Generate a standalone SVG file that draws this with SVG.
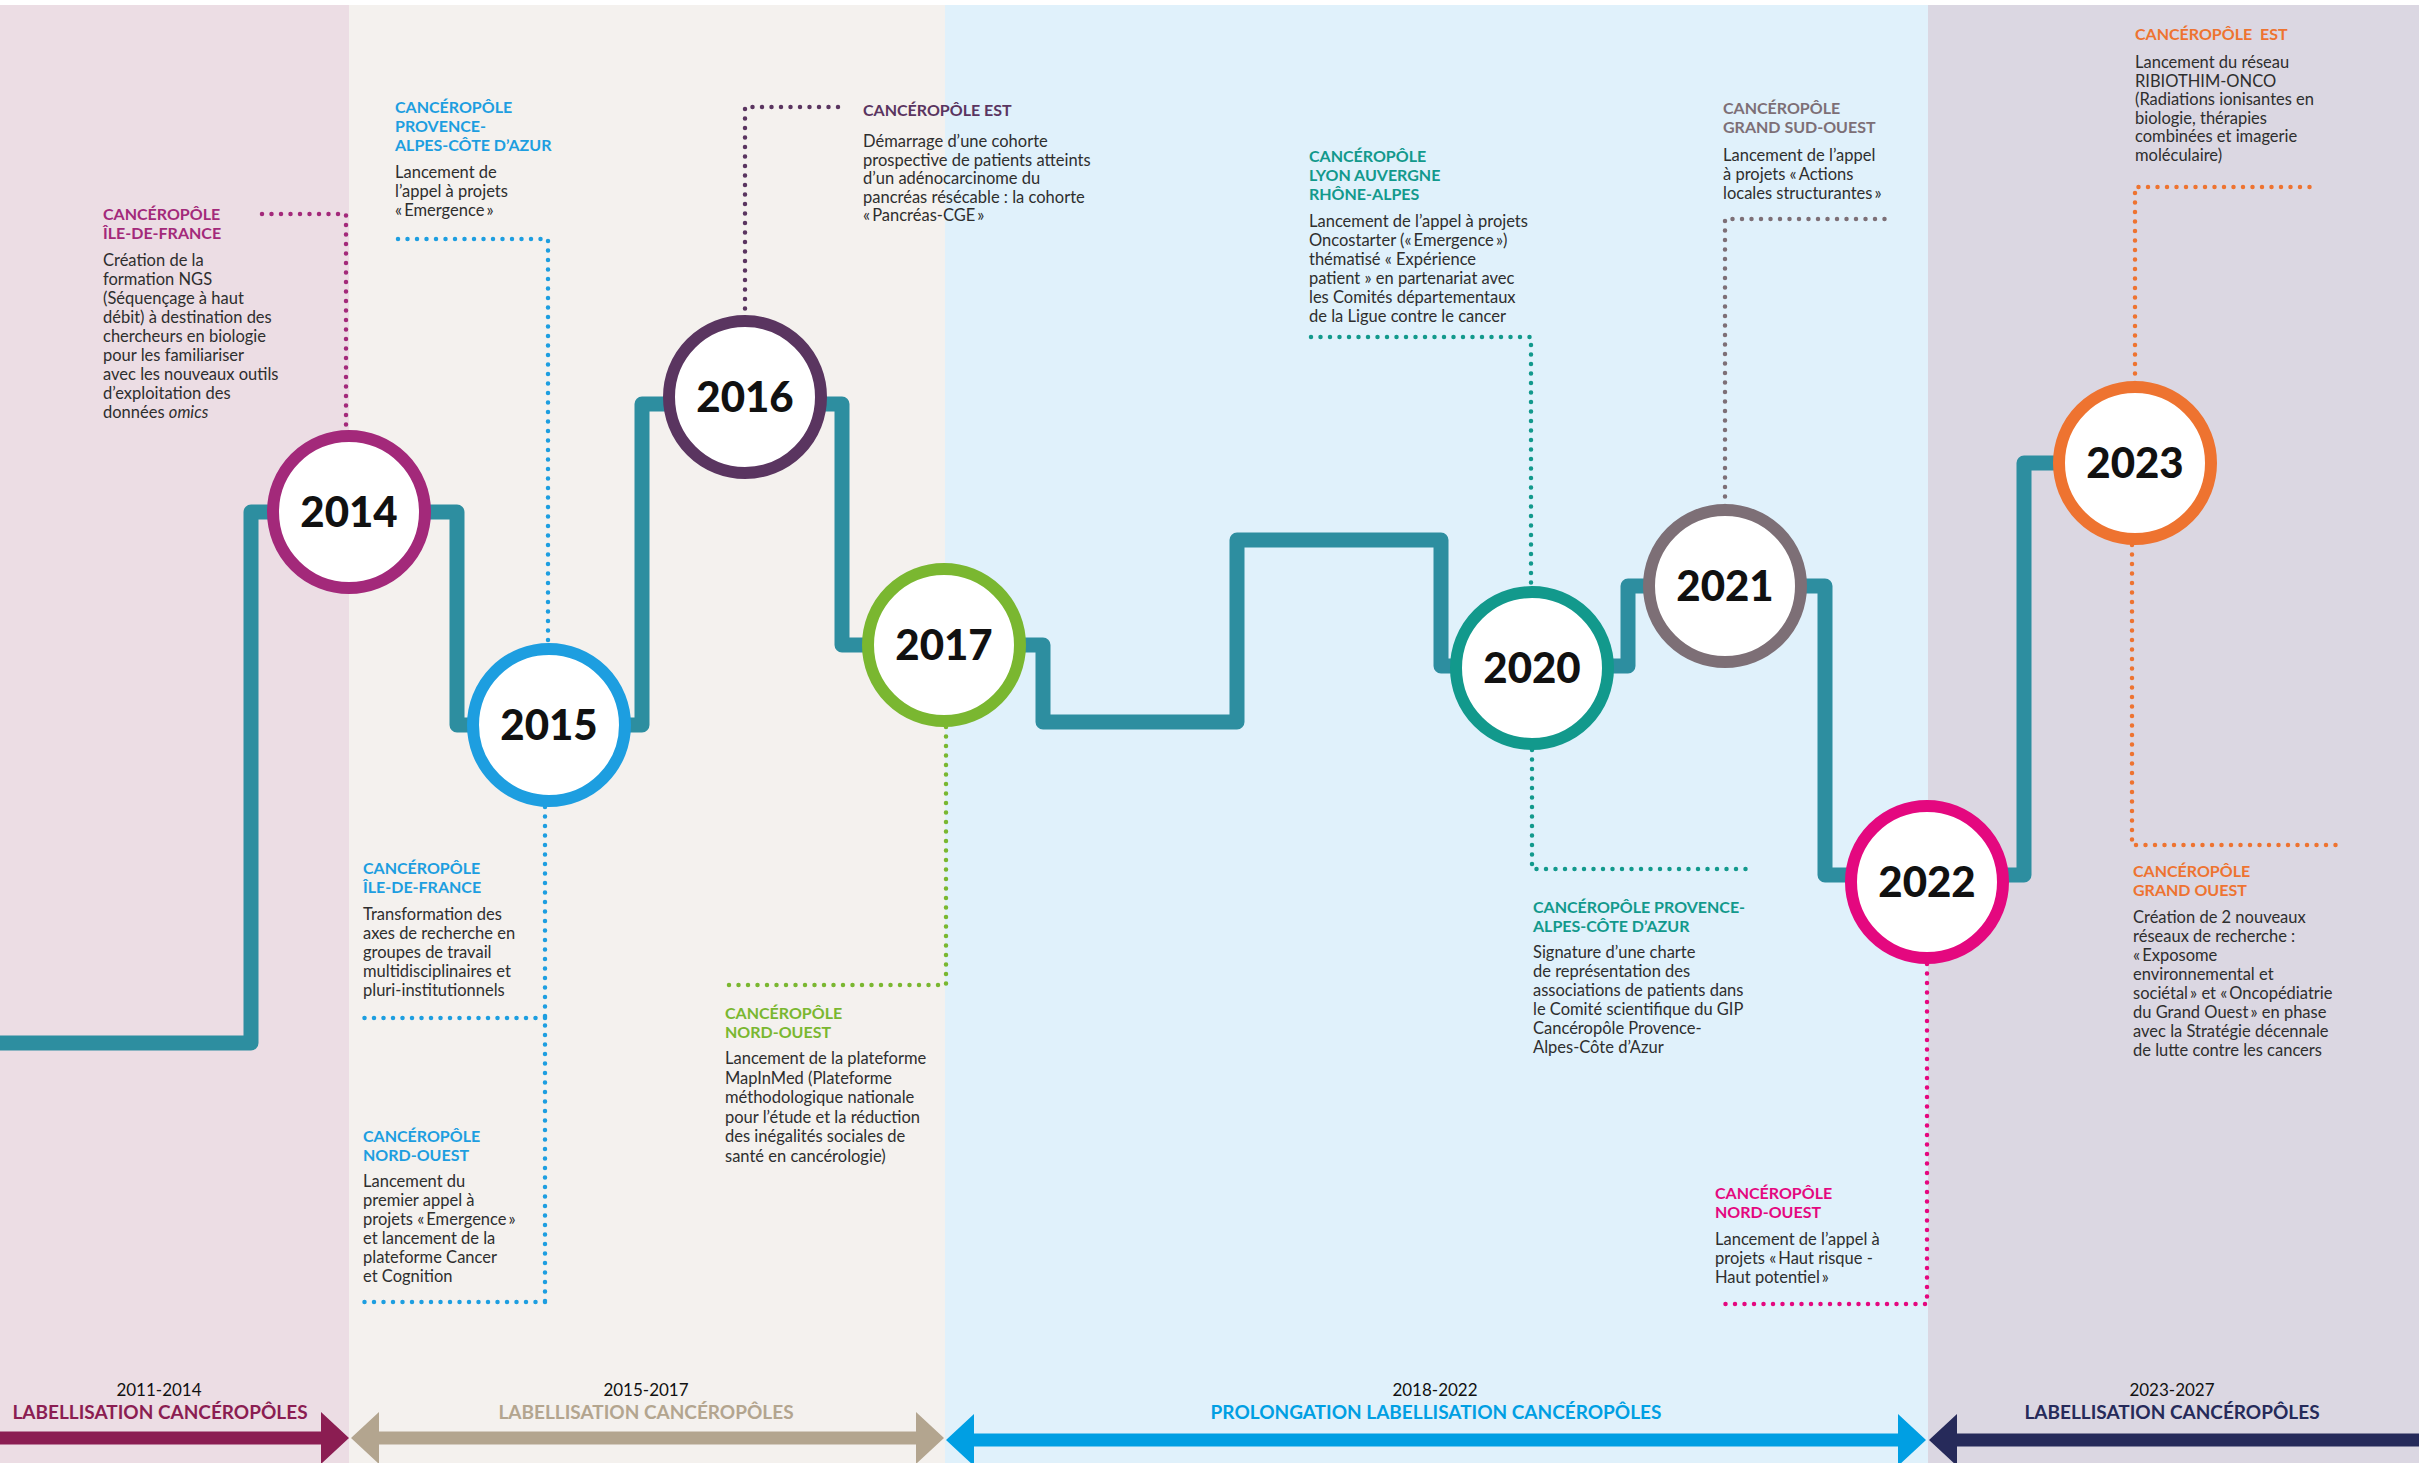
<svg xmlns="http://www.w3.org/2000/svg" width="2419" height="1463" viewBox="0 0 2419 1463">
<style>
.h{font-family:Lato,"Noto Sans",sans-serif;font-weight:700;font-size:16px}
.b{font-family:Lato,"Noto Sans",sans-serif;font-size:16.5px;fill:#2e2e2e}
.yr{font-family:Lato,"Noto Sans",sans-serif;font-weight:900;font-size:42px;fill:#111;text-anchor:middle}
.dot{fill:none;stroke-width:4.5;stroke-linecap:round;stroke-dasharray:0 9.5}
.ring{fill:#fff;stroke-width:12}
.per{font-family:Lato,"Noto Sans",sans-serif;font-size:17px;text-anchor:middle;fill:#111}
.lab{font-family:Lato,"Noto Sans",sans-serif;font-weight:700;font-size:19px;text-anchor:middle}
</style>
<g id="background">
<rect x="0" y="0" width="2419" height="1463" fill="#fff"/>
<rect x="0" y="5" width="349" height="1458" fill="#ecdde4"/>
<rect x="349" y="5" width="596" height="1458" fill="#f4f1ee"/>
<rect x="945" y="5" width="983" height="1458" fill="#e0f1fb"/>
<rect x="1928" y="5" width="491" height="1458" fill="#dbd7e2"/>
</g>
<g id="connectors">
<path id="timeline" d="M0,1043 H251 V512 H457 V725 H642 V404 H842 V645 H1043 V722 H1237 V540 H1441 V666 H1628 V586 H1825 V875 H2024 V463 H2135" fill="none" stroke="#2d8ea0" stroke-width="15" stroke-linejoin="round"/>
<path class="dot" stroke="#a3297a" d="M262,214 H346 V432"/>
<path class="dot" stroke="#1d9ee0" d="M398,239 H548 V645"/>
<path class="dot" stroke="#1d9ee0" d="M545,807 V1302 M545,1018 H364 M545,1302 H364"/>
<path class="dot" stroke="#5a3560" d="M745,318 V107 H844"/>
<path class="dot" stroke="#7ab730" d="M946,727 V985 H725"/>
<path class="dot" stroke="#12998c" d="M1311,337 H1531 V588"/>
<path class="dot" stroke="#12998c" d="M1532,750 V869 H1746"/>
<path class="dot" stroke="#7d6f76" d="M1725,506 V219 H1887"/>
<path class="dot" stroke="#e4087f" d="M1927,964 V1304 H1716"/>
<path class="dot" stroke="#ee7330" d="M2135,383 V187 H2314"/>
<path class="dot" stroke="#ee7330" d="M2132,545 V845 H2342"/>
</g>
<g id="n2014">
<circle class="ring" cx="349" cy="512" r="76" stroke="#a3297a"/>
<text class="yr" x="349" y="527">2014</text>
<text class="h" fill="#a3297a"><tspan x="103" y="220">CANCÉROPÔLE</tspan><tspan x="103" y="239">ÎLE-DE-FRANCE</tspan></text>
<text class="b"><tspan x="103" y="266">Création de la</tspan><tspan x="103" y="285">formation NGS</tspan><tspan x="103" y="304">(Séquençage à haut</tspan><tspan x="103" y="323">débit) à destination des</tspan><tspan x="103" y="342">chercheurs en biologie</tspan><tspan x="103" y="361">pour les familiariser</tspan><tspan x="103" y="380">avec les nouveaux outils</tspan><tspan x="103" y="399">d’exploitation des</tspan><tspan x="103" y="418">données <tspan font-style="italic">omics</tspan></tspan></text>
</g>
<g id="n2015">
<circle class="ring" cx="549" cy="725" r="76" stroke="#1d9ee0"/>
<text class="yr" x="549" y="740">2015</text>
<text class="h" fill="#1d9ee0"><tspan x="395" y="113">CANCÉROPÔLE</tspan><tspan x="395" y="132">PROVENCE-</tspan><tspan x="395" y="151">ALPES-CÔTE D’AZUR</tspan></text>
<text class="b"><tspan x="395" y="178">Lancement de</tspan><tspan x="395" y="197">l’appel à projets</tspan><tspan x="395" y="216">«&#8201;Emergence&#8201;»</tspan></text>
<text class="h" fill="#1d9ee0"><tspan x="363" y="874">CANCÉROPÔLE</tspan><tspan x="363" y="893">ÎLE-DE-FRANCE</tspan></text>
<text class="b"><tspan x="363" y="920">Transformation des</tspan><tspan x="363" y="939">axes de recherche en</tspan><tspan x="363" y="958">groupes de travail</tspan><tspan x="363" y="977">multidisciplinaires et</tspan><tspan x="363" y="996">pluri-institutionnels</tspan></text>
<text class="h" fill="#1d9ee0"><tspan x="363" y="1142">CANCÉROPÔLE</tspan><tspan x="363" y="1161">NORD-OUEST</tspan></text>
<text class="b"><tspan x="363" y="1187">Lancement du</tspan><tspan x="363" y="1206">premier appel à</tspan><tspan x="363" y="1225">projets «&#8201;Emergence&#8201;»</tspan><tspan x="363" y="1244">et lancement de la</tspan><tspan x="363" y="1263">plateforme Cancer</tspan><tspan x="363" y="1282">et Cognition</tspan></text>
</g>
<g id="n2016">
<circle class="ring" cx="745" cy="397" r="76" stroke="#5a3560"/>
<text class="yr" x="745" y="412">2016</text>
<text class="h" fill="#5a3560"><tspan x="863" y="116">CANCÉROPÔLE EST</tspan></text>
<text class="b"><tspan x="863" y="147">Démarrage d’une cohorte</tspan><tspan x="863" y="165.5">prospective de patients atteints</tspan><tspan x="863" y="184">d’un adénocarcinome du</tspan><tspan x="863" y="202.5">pancréas résécable : la cohorte</tspan><tspan x="863" y="221">«&#8201;Pancréas-CGE&#8201;»</tspan></text>
</g>
<g id="n2017">
<circle class="ring" cx="944" cy="645" r="76" stroke="#7ab730"/>
<text class="yr" x="944" y="660">2017</text>
<text class="h" fill="#7ab730"><tspan x="725" y="1019">CANCÉROPÔLE</tspan><tspan x="725" y="1038">NORD-OUEST</tspan></text>
<text class="b"><tspan x="725" y="1064">Lancement de la plateforme</tspan><tspan x="725" y="1083.5">MapInMed (Plateforme</tspan><tspan x="725" y="1103">méthodologique nationale</tspan><tspan x="725" y="1122.5">pour l’étude et la réduction</tspan><tspan x="725" y="1142">des inégalités sociales de</tspan><tspan x="725" y="1161.5">santé en cancérologie)</tspan></text>
</g>
<g id="n2020">
<circle class="ring" cx="1532" cy="668" r="76" stroke="#12998c"/>
<text class="yr" x="1532" y="683">2020</text>
<text class="h" fill="#12998c"><tspan x="1309" y="162">CANCÉROPÔLE</tspan><tspan x="1309" y="181">LYON AUVERGNE</tspan><tspan x="1309" y="200">RHÔNE-ALPES</tspan></text>
<text class="b"><tspan x="1309" y="227">Lancement de l’appel à projets</tspan><tspan x="1309" y="246">Oncostarter («&#8201;Emergence&#8201;»)</tspan><tspan x="1309" y="265">thématisé « Expérience</tspan><tspan x="1309" y="284">patient » en partenariat avec</tspan><tspan x="1309" y="303">les Comités départementaux</tspan><tspan x="1309" y="322">de la Ligue contre le cancer</tspan></text>
<text class="h" fill="#12998c"><tspan x="1533" y="913">CANCÉROPÔLE PROVENCE-</tspan><tspan x="1533" y="932">ALPES-CÔTE D’AZUR</tspan></text>
<text class="b"><tspan x="1533" y="958">Signature d’une charte</tspan><tspan x="1533" y="977">de représentation des</tspan><tspan x="1533" y="996">associations de patients dans</tspan><tspan x="1533" y="1015">le Comité scientifique du GIP</tspan><tspan x="1533" y="1034">Cancéropôle Provence-</tspan><tspan x="1533" y="1053">Alpes-Côte d’Azur</tspan></text>
</g>
<g id="n2021">
<circle class="ring" cx="1725" cy="586" r="76" stroke="#7d6f76"/>
<text class="yr" x="1725" y="601">2021</text>
<text class="h" fill="#7d6f76"><tspan x="1723" y="114">CANCÉROPÔLE</tspan><tspan x="1723" y="133">GRAND SUD-OUEST</tspan></text>
<text class="b"><tspan x="1723" y="161">Lancement de l’appel</tspan><tspan x="1723" y="180">à projets «&#8201;Actions</tspan><tspan x="1723" y="199">locales structurantes&#8201;»</tspan></text>
</g>
<g id="n2022">
<circle class="ring" cx="1927" cy="882" r="76" stroke="#e4087f"/>
<text class="yr" x="1927" y="897">2022</text>
<text class="h" fill="#e4087f"><tspan x="1715" y="1199">CANCÉROPÔLE</tspan><tspan x="1715" y="1218">NORD-OUEST</tspan></text>
<text class="b"><tspan x="1715" y="1245">Lancement de l’appel à</tspan><tspan x="1715" y="1264">projets «&#8201;Haut risque -</tspan><tspan x="1715" y="1283">Haut potentiel&#8201;»</tspan></text>
</g>
<g id="n2023">
<circle class="ring" cx="2135" cy="463" r="76" stroke="#ee7330"/>
<text class="yr" x="2135" y="478">2023</text>
<text class="h" fill="#ee7330" xml:space="preserve"><tspan x="2135" y="40">CANCÉROPÔLE  EST</tspan></text>
<text class="b"><tspan x="2135" y="68">Lancement du réseau</tspan><tspan x="2135" y="86.6">RIBIOTHIM-ONCO</tspan><tspan x="2135" y="105.2">(Radiations ionisantes en</tspan><tspan x="2135" y="123.8">biologie, thérapies</tspan><tspan x="2135" y="142.4">combinées et imagerie</tspan><tspan x="2135" y="161">moléculaire)</tspan></text>
<text class="h" fill="#ee7330"><tspan x="2133" y="877">CANCÉROPÔLE</tspan><tspan x="2133" y="896">GRAND OUEST</tspan></text>
<text class="b"><tspan x="2133" y="923">Création de 2 nouveaux</tspan><tspan x="2133" y="942">réseaux de recherche :</tspan><tspan x="2133" y="961">«&#8201;Exposome</tspan><tspan x="2133" y="980">environnemental et</tspan><tspan x="2133" y="999">sociétal&#8201;» et «&#8201;Oncopédiatrie</tspan><tspan x="2133" y="1018">du Grand Ouest&#8201;» en phase</tspan><tspan x="2133" y="1037">avec la Stratégie décennale</tspan><tspan x="2133" y="1056">de lutte contre les cancers</tspan></text>
</g>
<g id="periods">
<path fill="#8b1d52" d="M0,1431.5 H321 V1412 L349,1438 L321,1464 V1444.5 H0 Z"/>
<path fill="#b3a58f" d="M351,1438 L379,1412 V1431.5 H916 V1412 L944,1438 L916,1464 V1444.5 H379 V1464 Z"/>
<path fill="#009fe3" d="M946,1440 L974,1414 V1433.5 H1898 V1414 L1926,1440 L1898,1466 V1446.5 H974 V1466 Z"/>
<path fill="#262a5a" d="M1929,1440 L1957,1414 V1433.5 H2419 V1446.5 H1957 V1466 Z"/>
<text class="per" x="159" y="1396">2011-2014</text>
<text class="lab" x="160" y="1419" fill="#8b1d52">LABELLISATION CANCÉROPÔLES</text>
<text class="per" x="646" y="1396">2015-2017</text>
<text class="lab" x="646" y="1419" fill="#b3a58f">LABELLISATION CANCÉROPÔLES</text>
<text class="per" x="1435" y="1396">2018-2022</text>
<text class="lab" x="1436" y="1419" fill="#009fe3">PROLONGATION LABELLISATION CANCÉROPÔLES</text>
<text class="per" x="2172" y="1396">2023-2027</text>
<text class="lab" x="2172" y="1419" fill="#262a5a">LABELLISATION CANCÉROPÔLES</text>
</g>
</svg>
